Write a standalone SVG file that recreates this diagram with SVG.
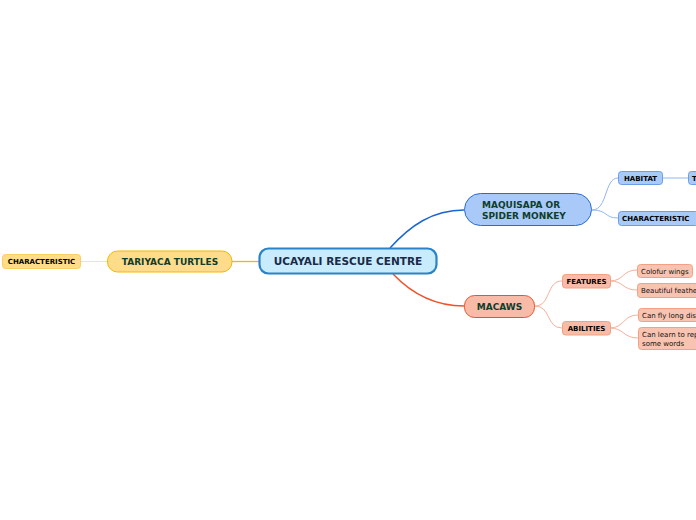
<svg xmlns="http://www.w3.org/2000/svg" width="696" height="520" viewBox="0 0 696 520">
<style>
text{font-family:"DejaVu Sans",Verdana,"Liberation Sans",sans-serif}
.main{font-size:10.5px;font-weight:bold;fill:#1b2a48}
.l1{font-size:9px;font-weight:bold;fill:#0f3d2c}
.l2{font-size:7px;font-weight:bold;fill:#000}
.l3{font-size:7px;fill:#111}
.c{fill:none}
</style>
<rect width="696" height="520" fill="#fff"/>
<g id="connectors">
<path class="c" d="M232,261.5 H259" stroke="#f5b800" stroke-width="1.3"/>
<path class="c" d="M80,261.5 H107" stroke="#fde3a0" stroke-width="1"/>
<path class="c" d="M390,248 C410,226 432,210 464,210" stroke="#1c66d0" stroke-width="1.5"/>
<path class="c" d="M393,274 C412,294 434,306 464,306" stroke="#f0522a" stroke-width="1.5"/>
<path class="c" d="M592,210 C608,210 604,178 618,178" stroke="#8fb6f2" stroke-width="1"/>
<path class="c" d="M592,210 C608,210 604,218 618,218" stroke="#8fb6f2" stroke-width="1"/>
<path class="c" d="M662,178 H688" stroke="#8fb6f2" stroke-width="1"/>
<path class="c" d="M535,306 C551,306 546,281 562,281" stroke="#f6b09a" stroke-width="1"/>
<path class="c" d="M535,306 C551,306 546,328 562,328" stroke="#f6b09a" stroke-width="1"/>
<path class="c" d="M610,281 C624,281 622,270 637,270" stroke="#f6b09a" stroke-width="1"/>
<path class="c" d="M610,281 C624,281 622,290 637,290" stroke="#f6b09a" stroke-width="1"/>
<path class="c" d="M610,328 C624,328 623,315 638,315" stroke="#f6b09a" stroke-width="1"/>
<path class="c" d="M610,328 C624,328 623,338 638,338" stroke="#f6b09a" stroke-width="1"/>
</g>
<g id="central">
<rect x="259.5" y="248.5" width="177" height="25" rx="9" fill="#c8ecfc" stroke="#2884c8" stroke-width="2.2"/>
<text class="main" x="348" y="265" text-anchor="middle">UCAYALI RESCUE CENTRE</text>
</g>
<g id="turtles">
<rect x="107.5" y="251" width="124.5" height="21" rx="10" fill="#fedc8a" stroke="#f5b800" stroke-width="1"/>
<text class="l1" x="170" y="265" text-anchor="middle">TARIYACA TURTLES</text>
</g>
<g id="turtles-characteristic">
<rect x="2.5" y="254.5" width="78" height="14" rx="3" fill="#fedc8a" stroke="#f8cf60" stroke-width="1"/>
<text class="l2" x="41.5" y="264" text-anchor="middle">CHARACTERISTIC</text>
</g>
<g id="monkey">
<rect x="464.5" y="193.5" width="127" height="32" rx="16" fill="#a9c9f9" stroke="#2a6cd0" stroke-width="1"/>
<text class="l1" x="482" y="208">MAQUISAPA OR</text>
<text class="l1" x="482" y="219">SPIDER MONKEY</text>
</g>
<g id="habitat">
<rect x="618.5" y="171.5" width="44" height="13" rx="3" fill="#a9c9f9" stroke="#6a9fe8" stroke-width="1"/>
<text class="l2" x="640.5" y="181" text-anchor="middle">HABITAT</text>
</g>
<g id="habitat-detail">
<rect x="688.5" y="171.5" width="30" height="13" rx="3" fill="#a9c9f9" stroke="#6a9fe8" stroke-width="1"/>
<text class="l2" x="692" y="181">T</text>
</g>
<g id="monkey-characteristic">
<rect x="618.5" y="211.5" width="80" height="14" rx="3" fill="#a9c9f9" stroke="#6a9fe8" stroke-width="1"/>
<text class="l2" x="622" y="221">CHARACTERISTIC</text>
</g>
<g id="macaws">
<rect x="464.5" y="295.5" width="70" height="22" rx="10" fill="#f8bba8" stroke="#e8532a" stroke-width="1"/>
<text class="l1" x="499.5" y="310" text-anchor="middle">MACAWS</text>
</g>
<g id="features">
<rect x="562.5" y="274.5" width="48" height="13.5" rx="3" fill="#f8bba8" stroke="#f2a282" stroke-width="1"/>
<text class="l2" x="586.5" y="284" text-anchor="middle">FEATURES</text>
</g>
<g id="abilities">
<rect x="562.5" y="321.5" width="48" height="13.5" rx="3" fill="#f8bba8" stroke="#f2a282" stroke-width="1"/>
<text class="l2" x="586.5" y="331" text-anchor="middle">ABILITIES</text>
</g>
<g id="wings">
<rect x="637.5" y="264.5" width="55" height="13" rx="3" fill="#f9c3b1" stroke="#f2a282" stroke-width="1"/>
<text class="l3" x="641" y="274">Colofur wings</text>
</g>
<g id="feathers">
<rect x="637.5" y="283.5" width="75" height="14" rx="3" fill="#f9c3b1" stroke="#f2a282" stroke-width="1"/>
<text class="l3" x="641" y="293">Beautiful feathers</text>
</g>
<g id="fly">
<rect x="638.5" y="308.5" width="95" height="13" rx="3" fill="#f9c3b1" stroke="#f2a282" stroke-width="1"/>
<text class="l3" x="642" y="318">Can fly long distances</text>
</g>
<g id="repeat">
<rect x="638.5" y="327.5" width="95" height="22" rx="3" fill="#f9c3b1" stroke="#f2a282" stroke-width="1"/>
<text class="l3" x="642" y="337">Can learn to repeat</text>
<text class="l3" x="642" y="346">some words</text>
</g>
</svg>
